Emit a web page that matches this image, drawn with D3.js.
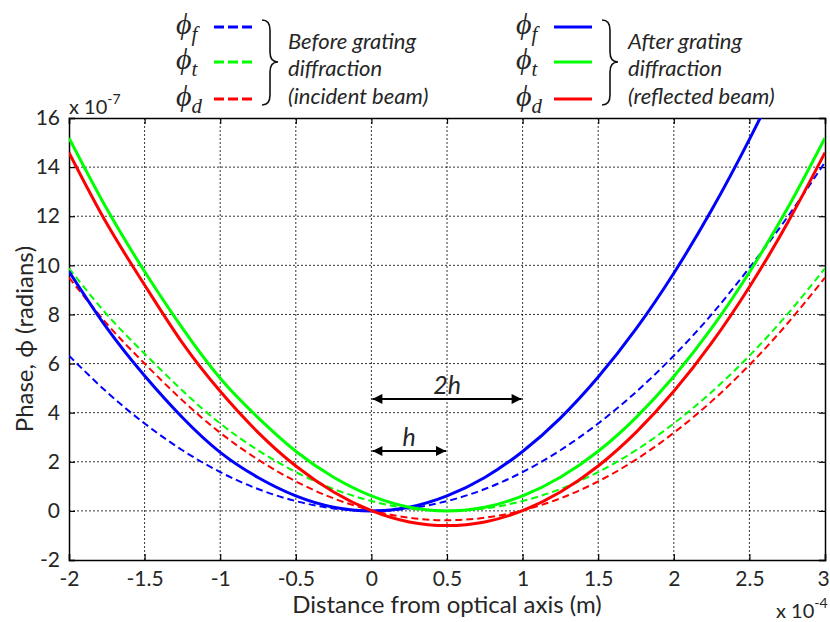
<!DOCTYPE html>
<html>
<head>
<meta charset="utf-8">
<script src="https://cdn.jsdelivr.net/npm/d3@7"></script>
<style>
  body { margin: 0; background: #fff; }
  text { font-family: Lato, "Open Sans", sans-serif; fill: #262626; }
</style>
</head>
<body>
<div id="chart"></div>
<script>
var svgWidth = 830;
var svgHeight = 622;

var margin = { top: 118, right: 5, bottom: 62, left: 69 };
var width = svgWidth - margin.left - margin.right;
var height = svgHeight - margin.top - margin.bottom;

// distance from optical axis (x 10^-4 m)
var xVals = [-2, -1.75, -1.5, -1.25, -1, -0.75, -0.5, -0.25, 0, 0.25, 0.5, 0.75, 1, 1.25, 1.5, 1.75, 2, 2.25, 2.5, 2.75, 3];

// phase (x 10^-7 rad), before grating diffraction (incident beam)
var phiFBefore = [6.32, 4.84, 3.56, 2.47, 1.58, 0.89, 0.4, 0.1, 0, 0.1, 0.4, 0.89, 1.58, 2.47, 3.56, 4.84, 6.32, 8.0, 9.9, 11.95, 14.2];
var phiTBefore = [9.88, 8.0, 6.4, 4.9, 3.56, 2.47, 1.58, 0.89, 0.4, 0.1, 0, 0.1, 0.4, 0.89, 1.58, 2.47, 3.56, 4.84, 6.32, 8.0, 9.88];
var phiDBefore = [9.5, 7.62, 6.0, 4.5, 3.18, 2.09, 1.2, 0.51, 0.02, -0.28, -0.38, -0.28, 0.02, 0.51, 1.2, 2.09, 3.18, 4.46, 5.94, 7.62, 9.5];

// phase (x 10^-7 rad), after grating diffraction (reflected beam)
var phiFAfter = [9.75, 7.45, 5.5, 3.8, 2.38, 1.36, 0.61, 0.15, 0, 0.15, 0.61, 1.36, 2.42, 3.78, 5.45, 7.41, 9.68, 12.25, 15.13, 18.3, 21.8];
var phiTAfter = [15.19, 12.3, 9.75, 7.44, 5.4, 3.8, 2.43, 1.37, 0.61, 0.15, 0, 0.15, 0.61, 1.37, 2.43, 3.8, 5.47, 7.44, 9.72, 12.3, 15.19];
var phiDAfter = [14.59, 11.7, 9.2, 6.84, 4.87, 3.2, 1.83, 0.77, 0.01, -0.45, -0.6, -0.45, 0.01, 0.77, 1.83, 3.2, 4.87, 6.84, 9.12, 11.7, 14.59];

var xTicks = [-2, -1.5, -1, -0.5, 0, 0.5, 1, 1.5, 2, 2.5, 3];
var yTicks = [-2, 0, 2, 4, 6, 8, 10, 12, 14, 16];

// annotation arrows: [x0, x1, y, label]
var arrows = [[0, 1, 4.56, "2h"], [0, 0.5, 2.44, "h"]];

var series = [
  { name: "f", values: phiFBefore, color: "#0000ff", dashed: true },
  { name: "t", values: phiTBefore, color: "#00ff00", dashed: true },
  { name: "d", values: phiDBefore, color: "#ff0000", dashed: true },
  { name: "f", values: phiFAfter, color: "#0000ff", dashed: false },
  { name: "t", values: phiTAfter, color: "#00ff00", dashed: false },
  { name: "d", values: phiDAfter, color: "#ff0000", dashed: false }
];

var svg = d3.select("#chart")
  .append("svg")
  .attr("width", svgWidth)
  .attr("height", svgHeight);

var defs = svg.append("defs");
defs.append("clipPath").attr("id", "plotClip")
  .append("rect").attr("width", width).attr("height", height);
defs.append("marker")
  .attr("id", "arrowHead")
  .attr("viewBox", "0 0 10 10")
  .attr("refX", 10).attr("refY", 5)
  .attr("markerWidth", 6.5).attr("markerHeight", 5)
  .attr("markerUnits", "strokeWidth")
  .attr("orient", "auto-start-reverse")
  .append("path").attr("d", "M0,0 L10,5 L0,10 Z").attr("fill", "#000");

var chartGroup = svg.append("g")
  .attr("transform", `translate(${margin.left}, ${margin.top})`);

var xScale = d3.scaleLinear().domain([-2, 3]).range([0, width]);
var yScale = d3.scaleLinear().domain([-2, 16]).range([height, 0]);

// grid
chartGroup.append("g")
  .selectAll("line")
  .data(xTicks.slice(1, -1))
  .enter()
  .append("line")
  .attr("x1", d => xScale(d)).attr("x2", d => xScale(d))
  .attr("y1", 0).attr("y2", height)
  .attr("stroke", "#000").attr("stroke-width", 0.8)
  .attr("stroke-dasharray", "2,2");

chartGroup.append("g")
  .selectAll("line")
  .data(yTicks.slice(1, -1))
  .enter()
  .append("line")
  .attr("x1", 0).attr("x2", width)
  .attr("y1", d => yScale(d)).attr("y2", d => yScale(d))
  .attr("stroke", "#000").attr("stroke-width", 0.8)
  .attr("stroke-dasharray", "2,2");

// axes, matlab style ticks pointing inward on all sides
var fmt = d => String(d); // plain hyphen minus like the original
var bottomAxis = d3.axisBottom(xScale).tickValues(xTicks).tickSize(-6).tickPadding(11).tickFormat(fmt);
var topAxis = d3.axisTop(xScale).tickValues(xTicks).tickSize(-6).tickFormat("");
var leftAxis = d3.axisLeft(yScale).tickValues(yTicks).tickSize(-6).tickPadding(9).tickFormat(fmt);
var rightAxis = d3.axisRight(yScale).tickValues(yTicks).tickSize(-6).tickFormat("");

var xAxisG = chartGroup.append("g").attr("transform", `translate(0, ${height})`).call(bottomAxis);
chartGroup.append("g").call(topAxis);
chartGroup.append("g").call(leftAxis);
chartGroup.append("g").attr("transform", `translate(${width}, 0)`).call(rightAxis);

chartGroup.selectAll(".domain").attr("stroke", "#000").attr("stroke-width", 1.5);
chartGroup.selectAll(".tick line").attr("stroke", "#000").attr("stroke-width", 1.2);
chartGroup.selectAll(".tick text")
  .style("font-size", "21px")
  .style("font-family", "Lato, sans-serif")
  .attr("fill", "#262626");

// keep the last x label inside the window
xAxisG.selectAll(".tick text").filter(d => d === 3).attr("dx", -2);

// curves
var line = d3.line()
  .x((d, i) => xScale(xVals[i]))
  .y(d => yScale(d))
  .curve(d3.curveNatural);

var curveGroup = chartGroup.append("g").attr("clip-path", "url(#plotClip)");
curveGroup.selectAll("path")
  .data(series)
  .enter()
  .append("path")
  .attr("d", d => line(d.values))
  .attr("fill", "none")
  .attr("stroke", d => d.color)
  .attr("stroke-width", d => d.dashed ? 2 : 3)
  .attr("stroke-dasharray", d => d.dashed ? "7,4" : null);

// h and 2h arrows
arrows.forEach(function(a) {
  chartGroup.append("line")
    .attr("x1", xScale(a[0]) + 1).attr("x2", xScale(a[1]) - 1)
    .attr("y1", yScale(a[2])).attr("y2", yScale(a[2]))
    .attr("stroke", "#000").attr("stroke-width", 2)
    .attr("marker-start", "url(#arrowHead)")
    .attr("marker-end", "url(#arrowHead)");
  chartGroup.append("text")
    .attr("x", xScale((a[0] + a[1]) / 2))
    .attr("y", yScale(a[2]) - 5)
    .attr("text-anchor", "middle")
    .style("font-size", "25px")
    .style("font-style", "italic")
    .attr("fill", "#111")
    .text(a[3]);
});

// exponent labels
var yExp = svg.append("text").attr("x", 69).attr("y", 114).style("font-size", "20px");
yExp.append("tspan").text("x 10");
yExp.append("tspan").attr("dy", -10).style("font-size", "14px").text("-7");

var xExp = svg.append("text").attr("x", 776).attr("y", 618).style("font-size", "20px");
xExp.append("tspan").text("x 10");
xExp.append("tspan").attr("dy", -10).style("font-size", "14px").text("-4");

// axis titles
svg.append("text")
  .attr("transform", `translate(33, ${margin.top + height / 2}) rotate(-90)`)
  .attr("text-anchor", "middle")
  .style("font-size", "24px")
  .text("Phase, \u03D5 (radians)");

svg.append("text")
  .attr("x", margin.left + width / 2)
  .attr("y", 613)
  .attr("text-anchor", "middle")
  .style("font-size", "24px")
  .text("Distance from optical axis (m)");

// legend
var legendRows = [27, 62, 99];
var legendBlocks = [
  { x: 176, dashed: true, lines: ["Before grating", "diffraction", "(incident beam)"] },
  { x: 516, dashed: false, lines: ["After grating", "diffraction", "(reflected beam)"] }
];
legendBlocks.forEach(function(b, bi) {
  var g = svg.append("g").attr("transform", `translate(${b.x}, 0)`);
  [0, 1, 2].forEach(function(i) {
    var s = series[bi * 3 + i];
    var sym = g.append("text")
      .attr("x", 0).attr("y", legendRows[i] + 7)
      .style("font-family", "'Liberation Serif', serif")
      .style("font-style", "italic")
      .style("font-size", "30px")
      .attr("fill", "#111");
    sym.append("tspan").text("\u03D5");
    sym.append("tspan").attr("dy", 7).style("font-size", "21px").text(s.name);
    g.append("line")
      .attr("x1", 38).attr("x2", 76)
      .attr("y1", legendRows[i]).attr("y2", legendRows[i])
      .attr("stroke", s.color).attr("stroke-width", 3)
      .attr("stroke-dasharray", s.dashed ? "10,4" : null);
  });
  // curly brace
  var bx = 86, top = 20, mid = 62, bot = 105;
  g.append("path")
    .attr("d", `M${bx},${top} Q${bx + 8},${top} ${bx + 8},${top + 10} L${bx + 8},${mid - 10} Q${bx + 8},${mid} ${bx + 16},${mid}` +
      ` Q${bx + 8},${mid} ${bx + 8},${mid + 10} L${bx + 8},${bot - 10} Q${bx + 8},${bot} ${bx},${bot}`)
    .attr("fill", "none").attr("stroke", "#111").attr("stroke-width", 1.6);
  b.lines.forEach(function(t, i) {
    g.append("text")
      .attr("x", 112).attr("y", [49, 76, 104][i])
      .style("font-size", "22px")
      .style("font-style", "italic")
      .attr("fill", "#111")
      .text(t);
  });
});
</script>
</body>
</html>
